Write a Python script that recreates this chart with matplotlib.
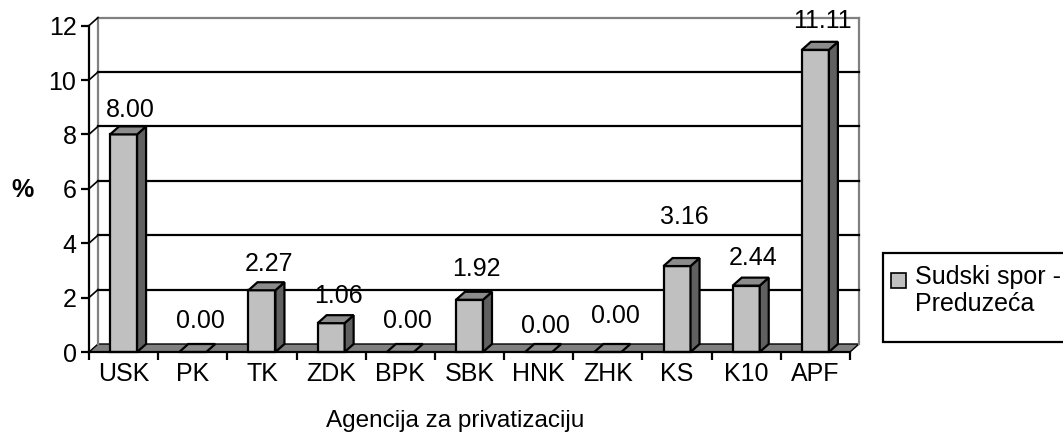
import matplotlib
matplotlib.use("Agg")
import matplotlib.pyplot as plt
from matplotlib.patches import Polygon, Rectangle

# ---- data ----
categories = ["USK", "PK", "TK", "ZDK", "BPK", "SBK", "HNK", "ZHK", "KS", "K10", "APF"]
values = [8.00, 0.00, 2.27, 1.06, 0.00, 1.92, 0.00, 0.00, 3.16, 2.44, 11.11]
value_labels = ["8.00", "0.00", "2.27", "1.06", "0.00", "1.92", "0.00", "0.00", "3.16", "2.44", "11.11"]
yticks = [0, 2, 4, 6, 8, 10, 12]
series_name = "Sudski spor -\nPreduzeća"
x_title = "Agencija za privatizaciju"
y_title = "%"

# label vertical nudges (pixels above the bar's back top edge)
label_nudge = [4, 11, 6, 7, 11, 11, 6, 16, 29, 8, 9]

plt.rcParams['font.family'] = ['Liberation Sans', 'DejaVu Sans']
FS = 18

W, H = 1063, 437
fig = plt.figure(figsize=(W / 100, H / 100), dpi=100)
ax_l, ax_r, ax_b, ax_t = 89, 850, 352, 25.6
ax = fig.add_axes([ax_l / W, 1 - ax_b / H, (ax_r - ax_l) / W, (ax_b - ax_t) / H])
n = len(categories)
ax.set_xlim(0, n)
ax.set_ylim(0, 12)
ax.patch.set_alpha(0)

# depth offset (in data units)
px_x = (ax_r - ax_l) / n
px_y = (ax_b - ax_t) / 12
dx = 9 / px_x
dy = 8 / px_y

GREY = "#808080"
FRONT = "#C0C0C0"
SIDE = "#606060"
TOP = "#8C8C8C"
LW = 1.6

# floor
ax.add_patch(Polygon([(0, 0), (n, 0), (n + dx, dy), (dx, dy)], closed=True,
                     facecolor=GREY, edgecolor="black", lw=1.0, zorder=1, clip_on=False))
# back wall lines
ax.plot([dx, dx], [dy, 12 + dy], color=GREY, lw=LW, zorder=1, clip_on=False)
ax.plot([n + dx, n + dx], [dy, 12 + dy], color=GREY, lw=LW, zorder=1, clip_on=False)
ax.plot([dx, n + dx], [12 + dy, 12 + dy], color=GREY, lw=LW, zorder=1, clip_on=False)
for t in yticks[1:-1]:
    ax.plot([dx, n + dx], [t + dy, t + dy], color="black", lw=LW, zorder=1, clip_on=False)
for t in yticks[1:]:
    ax.plot([0, dx], [t, t + dy], color="black", lw=1.2, zorder=1, clip_on=False)

# bars
bw = 0.39
for i, v in enumerate(values):
    c = i + 0.5
    x0, x1 = c - bw / 2, c + bw / 2
    if v > 0:
        ax.add_patch(Polygon([(x0, 0), (x1, 0), (x1, v), (x0, v)], closed=True,
                             facecolor=FRONT, edgecolor="black", lw=LW, zorder=3, clip_on=False))
        ax.add_patch(Polygon([(x1, 0), (x1 + dx, dy), (x1 + dx, v + dy), (x1, v)], closed=True,
                             facecolor=SIDE, edgecolor="black", lw=LW, zorder=3, clip_on=False))
    ax.add_patch(Polygon([(x0, v), (x1, v), (x1 + dx, v + dy), (x0 + dx, v + dy)], closed=True,
                         facecolor=TOP, edgecolor="black", lw=LW, zorder=3, clip_on=False))
    ax.annotate(value_labels[i], xy=(c + dx * 0.8, v + dy), xytext=(0, label_nudge[i]),
                textcoords="offset pixels", ha="center", va="bottom", fontsize=FS,
                zorder=5, annotation_clip=False)

# axes
for s in ["top", "right"]:
    ax.spines[s].set_visible(False)
for s in ["left", "bottom"]:
    ax.spines[s].set_linewidth(LW)
    ax.spines[s].set_zorder(4)
ax.set_yticks(yticks)
ax.set_yticklabels([str(t) for t in yticks], fontsize=FS)
ax.tick_params(axis="y", length=6, width=LW, pad=3)
ax.set_xticks(range(n + 1))
ax.set_xticklabels([])
ax.set_xticks([i + 0.5 for i in range(n)], minor=True)
ax.set_xticklabels(categories, minor=True, fontsize=FS)
ax.tick_params(axis="x", which="major", length=6, width=LW)
ax.tick_params(axis="x", which="minor", length=0, pad=7)

ax.set_xlabel(x_title, fontsize=17.5)
ax.xaxis.set_label_coords((455 - ax_l) / (ax_r - ax_l), -(421 - ax_b) / (ax_b - ax_t))
ax.xaxis.label.set_va("center")
ax.set_ylabel(y_title, rotation=0, fontsize=FS, fontweight="bold")
ax.yaxis.set_label_coords((22 - ax_l) / (ax_r - ax_l), (ax_b - 190) / (ax_b - ax_t))
ax.yaxis.label.set_va("center")
ax.yaxis.label.set_ha("center")

# legend (manual, Excel-style)
lx0, ly0, ly1 = 883, 253, 342
fig.patches.append(Rectangle((lx0 / W, 1 - ly1 / H), (W - lx0 + 10) / W, (ly1 - ly0) / H,
                             transform=fig.transFigure, facecolor="white", edgecolor="black",
                             lw=LW, clip_on=False))
fig.patches.append(Rectangle((891 / W, 1 - 288 / H), 15 / W, 15 / H, transform=fig.transFigure,
                             facecolor=FRONT, edgecolor="black", lw=1.2))
fig.text(915 / W, 1 - 265 / H, series_name, fontsize=FS, va="top", ha="left",
         linespacing=1.15, transform=fig.transFigure)

fig.savefig("out.png", dpi=100)
